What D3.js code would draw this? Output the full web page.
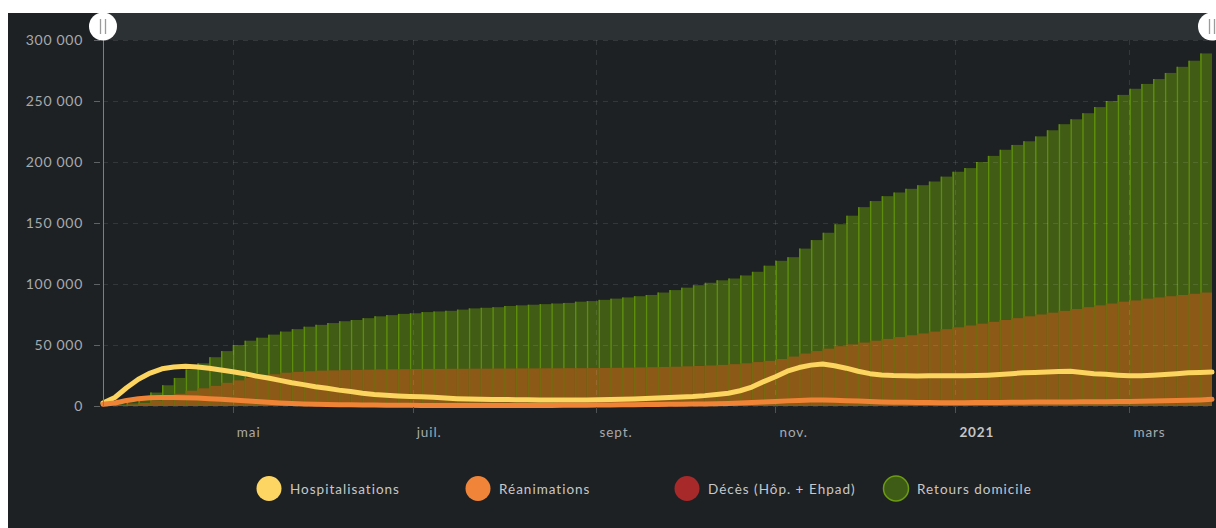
<!DOCTYPE html>
<html><head><meta charset="utf-8">
<script src="https://cdn.jsdelivr.net/npm/d3@7"></script>
<style>
html,body{margin:0;padding:0;background:#fff;}
svg{display:block;}
text{font-family:Lato,"Noto Sans",sans-serif;}
</style></head><body>
<svg id="c" width="1216" height="528"></svg>
<script>
// ---- data (values in thousands), one sample every 4 days from 2020-03-18 ----
const startDate = "2020-03-18";
const endDate = "2021-03-29";
const stepDays = 4;
const retours = [0.5,1.5,3,7,11,17,23,30,35,40,
  45,50,53.5,56,58.5,61,63,65,66.5,68,
  69.5,70.5,72,73.5,74.5,75.5,76,77,77.5,78,
  79,80,80.5,81,82,82.5,83,83.5,84,84.5,
  85.5,86,87,88,89,90,91,93,95,97,
  99,101,103,104.5,107,110,115,119,122,129,
  136,142,149,156,163,168,172,175,178,181,
  184,188,192,195,200,205,210,214,217,221,
  226,231,235,240,245,250,255,260,264,268,
  273,278,283,289,291];
const deces = [0.3,0.6,1.3,2.5,4.5,7,10,12.5,14.5,16.5,
  19,21,23,24.5,26,27.3,28,28.5,29,29.2,
  29.4,29.6,29.8,30,30.1,30.2,30.3,30.4,30.4,30.5,
  30.5,30.6,30.6,30.7,30.7,30.8,30.8,30.9,30.9,31,
  31,31.1,31.2,31.3,31.4,31.6,31.8,32,32.2,32.5,
  32.8,33.2,33.7,34.3,35,36,37,38.5,40.5,43,
  45,47,49,50.5,52,53.5,55,56.5,58,59.5,
  61,63,64.5,66,67.5,69,70.5,72,73.5,75,
  76.5,78,79.5,81,82.5,84,85.5,86.5,88,89,
  90,91,92,93,94];
const hospitalisations = [2.5,7,15,22,27,30.5,32,32.5,32,31,
  29.5,28,26.5,24.5,23,21,19,17.5,15.8,14.5,
  13,11.8,10.5,9.5,8.8,8.2,7.8,7.5,7.2,6.5,
  6,5.7,5.5,5.4,5.3,5.2,5.1,5,4.9,4.9,
  5,5,5.1,5.3,5.5,5.8,6.2,6.6,7,7.4,
  7.8,8.5,9.5,10.5,12.5,15.5,20,24,28.5,31.5,
  33.5,34.5,33,31,28.5,26.5,25.5,25,24.8,24.6,
  24.7,24.8,24.7,24.8,25,25.3,25.8,26.5,27.2,27.4,
  27.8,28.3,28.5,27.5,26.5,26,25.3,24.8,24.8,25.2,
  25.8,26.5,27.3,27.5,27.8];
const reanimations = [1.5,2.5,4.5,6,6.8,7,7,6.8,6.5,6,
  5.5,5,4.3,3.6,3,2.5,2,1.7,1.5,1.3,
  1.1,1,0.9,0.8,0.7,0.6,0.55,0.5,0.45,0.4,
  0.4,0.4,0.4,0.4,0.4,0.4,0.4,0.45,0.5,0.55,
  0.6,0.7,0.8,0.9,1,1.1,1.2,1.3,1.4,1.5,
  1.6,1.7,1.9,2.1,2.4,2.8,3.2,3.6,4.2,4.6,
  4.9,4.9,4.7,4.4,4,3.6,3.3,3.1,3,2.9,
  2.8,2.7,2.7,2.7,2.8,2.8,2.9,3,3.1,3.2,
  3.3,3.3,3.3,3.4,3.4,3.5,3.6,3.7,3.9,4.1,
  4.3,4.5,4.7,5,5.5];
const yTicks = [0,50,100,150,200,250,300];
const xTickDates = ["2020-05-01","2020-07-01","2020-09-01","2020-11-01","2021-01-01","2021-03-01"];
const xTickLabels = ["mai","juil.","sept.","nov.","2021","mars"];
const legendLabels = ["Hospitalisations","Réanimations","Décès (Hôp. + Ehpad)","Retours domicile"];
const legendColors = ["#fdd562","#f0853a","#a8292a","#3f5c17"];

// ---- drawing ----
const svg = d3.select("#c");
const parse = d3.timeParse("%Y-%m-%d");
const t0 = parse(startDate);
const dates = retours.map((_, i) => d3.timeDay.offset(t0, i * stepDays));
const x = d3.scaleTime().domain([t0, parse(endDate)]).range([103, 1212]);
const y = d3.scaleLinear().domain([0, 300]).range([406, 40]);
const fmt = d3.formatLocale({decimal: ",", thousands: " ", grouping: [3], currency: ["", "€"]}).format(",d");

svg.append("rect").attr("width", 1216).attr("height", 528).attr("fill", "#fff");
svg.append("rect").attr("x", 8).attr("y", 13).attr("width", 1208).attr("height", 515).attr("fill", "#1e2124");
svg.append("rect").attr("x", 103).attr("y", 13).attr("width", 1113).attr("height", 27).attr("fill", "#2c3133");

svg.append("clipPath").attr("id", "plot").append("rect")
  .attr("x", 103).attr("y", 40).attr("width", 1109).attr("height", 366);
const plot = svg.append("g").attr("clip-path", "url(#plot)");

const barW = i => x(d3.timeDay.offset(dates[i], stepDays)) - x(dates[i]);
plot.append("g").selectAll("rect").data(retours).join("rect")
  .attr("x", (d, i) => x(dates[i])).attr("width", (d, i) => barW(i))
  .attr("y", d => y(d)).attr("height", d => y(0) - y(d)).attr("fill", "#405c15");
plot.append("g").selectAll("line").data(retours).join("line")
  .attr("x1", (d, i) => x(dates[i]) + 0.75).attr("x2", (d, i) => x(dates[i]) + 0.75)
  .attr("y1", d => y(d)).attr("y2", y(0)).attr("stroke", "#5e8d0d").attr("stroke-width", 1.5);
plot.append("g").selectAll("rect").data(deces).join("rect")
  .attr("x", (d, i) => x(dates[i])).attr("width", (d, i) => barW(i))
  .attr("y", d => y(d)).attr("height", d => y(0) - y(d)).attr("fill", "#8d5917");
plot.append("g").selectAll("line").data(deces).join("line")
  .attr("x1", (d, i) => x(dates[i]) + 0.75).attr("x2", (d, i) => x(dates[i]) + 0.75)
  .attr("y1", d => y(d)).attr("y2", y(0)).attr("stroke", "#756a10").attr("stroke-width", 1.5);

// grid
const grid = svg.append("g").attr("stroke", "#ffffff").attr("stroke-opacity", 0.1).attr("stroke-dasharray", "5,5");
grid.selectAll(".h").data(yTicks).join("line").attr("class", "h")
  .attr("x1", 103).attr("x2", 1212).attr("y1", d => y(d) + 0.5).attr("y2", d => y(d) + 0.5);
grid.selectAll(".v").data(xTickDates).join("line").attr("class", "v")
  .attr("x1", d => Math.round(x(parse(d))) + 0.5).attr("x2", d => Math.round(x(parse(d))) + 0.5)
  .attr("y1", 40).attr("y2", 406);

// lines
const line = arr => d3.line().x((d, i) => x(dates[i])).y(d => y(d))(arr);
svg.append("path").attr("d", line(hospitalisations)).attr("fill", "none")
  .attr("stroke", "#fcd460").attr("stroke-width", 5).attr("stroke-linejoin", "round").attr("stroke-linecap", "round");
svg.append("path").attr("d", line(reanimations)).attr("fill", "none")
  .attr("stroke", "#ef8436").attr("stroke-width", 5).attr("stroke-linejoin", "round").attr("stroke-linecap", "round");

// y axis
svg.append("line").attr("x1", 103.5).attr("x2", 103.5).attr("y1", 40).attr("y2", 406).attr("stroke", "#7b7f82");
const ya = svg.append("g");
ya.selectAll("line").data(yTicks).join("line")
  .attr("x1", 94).attr("x2", 100).attr("y1", d => y(d) + 0.5).attr("y2", d => y(d) + 0.5).attr("stroke", "#5f6366");
ya.selectAll("text").data(yTicks).join("text")
  .attr("x", 83).attr("y", d => y(d)).attr("dy", "0.36em").attr("text-anchor", "end")
  .attr("letter-spacing", 0.7)
  .attr("fill", "#a7aaac").attr("font-size", 14).text(d => fmt(d * 1000));

// x axis
const xa = svg.append("g");
xa.selectAll("line").data(xTickDates).join("line")
  .attr("x1", d => Math.round(x(parse(d))) + 0.5).attr("x2", d => Math.round(x(parse(d))) + 0.5)
  .attr("y1", 407).attr("y2", 413).attr("stroke", "#4d5154");
xa.selectAll("text").data(xTickDates).join("text")
  .attr("x", d => x(parse(d)) + 4).attr("y", 437).attr("text-anchor", "start")
  .attr("font-size", 13.5).attr("letter-spacing", 0.9)
  .attr("font-weight", (d, i) => xTickLabels[i] === "2021" ? "bold" : "normal")
  .attr("fill", (d, i) => xTickLabels[i] === "2021" ? "#c4c6c8" : "#a7aaac")
  .text((d, i) => xTickLabels[i]);

// handles
[103, 1212].forEach(cx => {
  svg.append("circle").attr("cx", cx).attr("cy", 26.5).attr("r", 14).attr("fill", "#fff");
  [-2.5, 2.5].forEach(dx => svg.append("line").attr("x1", cx + dx).attr("x2", cx + dx)
    .attr("y1", 19).attr("y2", 34).attr("stroke", "#9b9b9b").attr("stroke-width", 1.3));
});

// legend
const lg = svg.append("g");
legendLabels.forEach((lab, i) => {
  const cx = 269 + i * 209;
  lg.append("circle").attr("cx", cx).attr("cy", 488.5).attr("r", 12.5).attr("fill", legendColors[i])
    .attr("stroke", i === 3 ? "#6c9c12" : "none").attr("stroke-width", 1.5);
  lg.append("text").attr("x", cx + 21).attr("y", 493.5).attr("fill", "#c6c8c9").attr("font-size", 13.5)
    .attr("letter-spacing", 1).text(lab);
});
</script>
</body></html>
